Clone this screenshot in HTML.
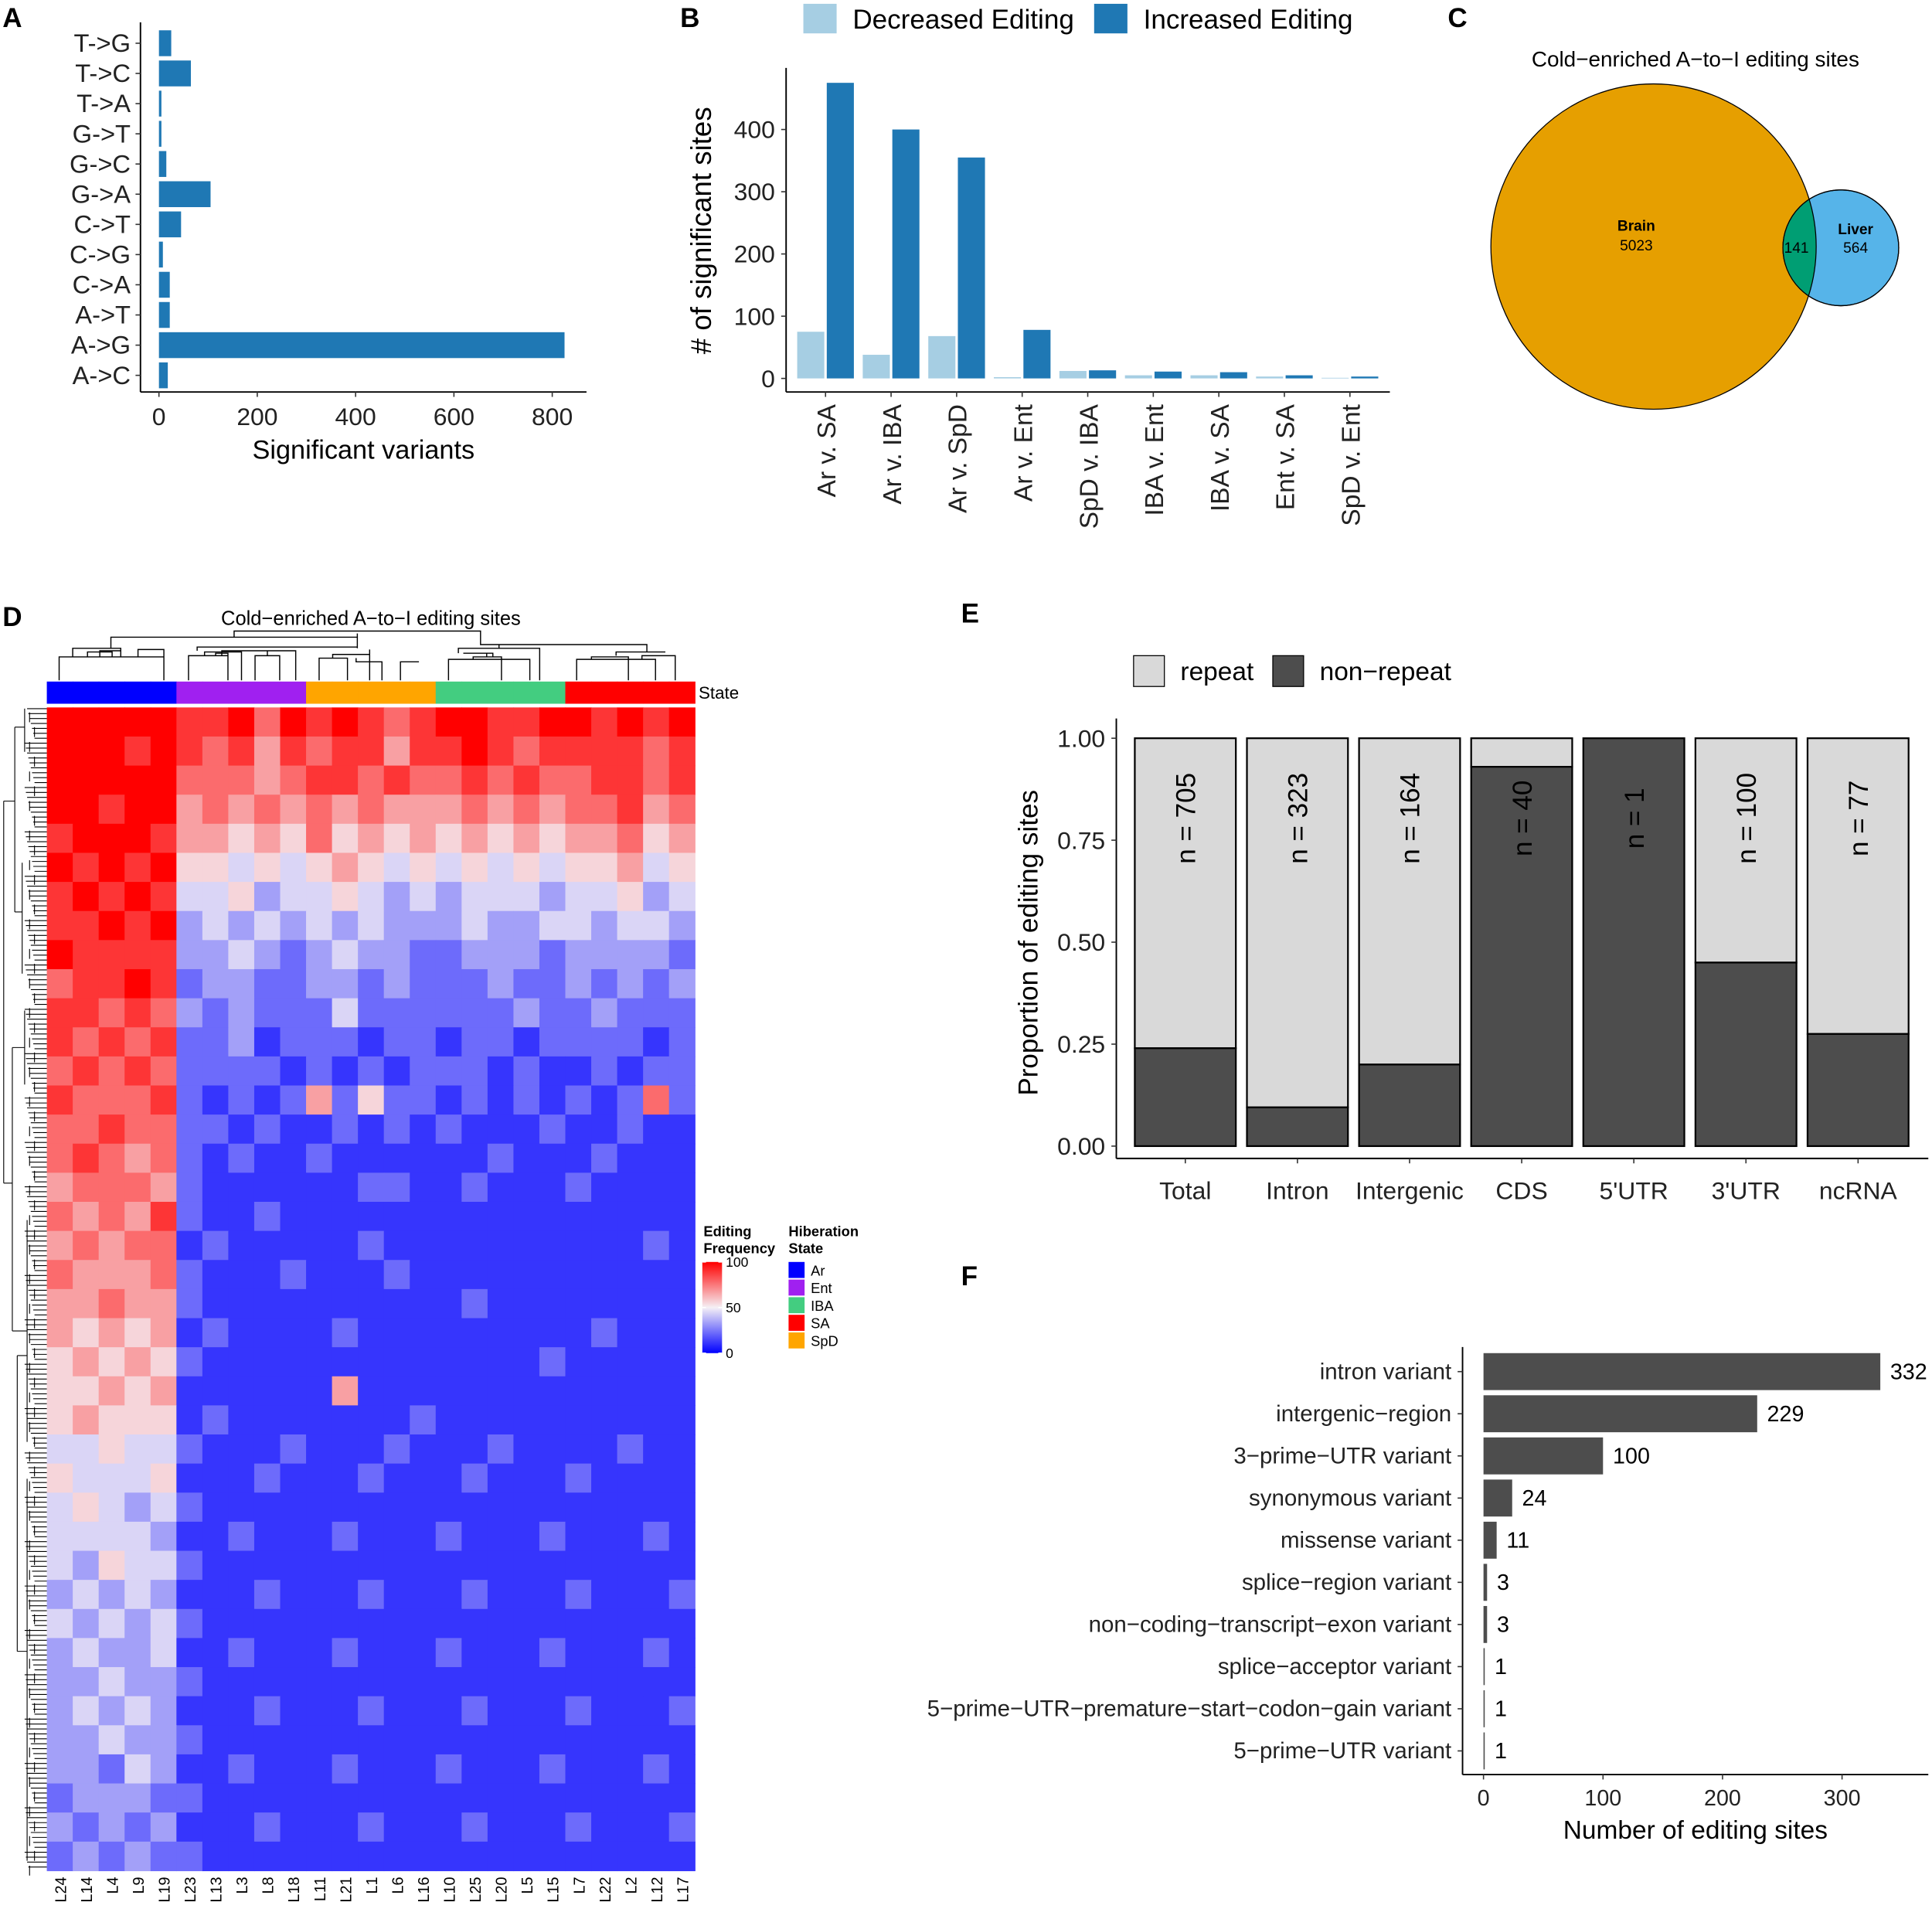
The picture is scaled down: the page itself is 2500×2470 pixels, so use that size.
<!DOCTYPE html>
<html><head><meta charset="utf-8"><style>
html,body{margin:0;padding:0;background:#fff;}
svg{display:block;font-family:"Liberation Sans",Arial,sans-serif;}
</style></head><body>
<svg id="fig" xmlns="http://www.w3.org/2000/svg" width="2500" height="2470" viewBox="0 0 1568 1549">
<g id="A"></g>
<g id="B"></g>
<g id="C"></g>
<g id="D"></g>
<g id="E"></g>
<g id="F"></g>
</svg>
<script>
// ---- Panel A data
const aCats=["T->G","T->C","T->A","G->T","G->C","G->A","C->T","C->G","C->A","A->T","A->G","A->C"];
const aVals=[25,65,5,5,15,105,45,8,22,22,825,18];
const aTicks=[0,200,400,600,800];
// ---- Panel B data
const bCats=["Ar v. SA","Ar v. IBA","Ar v. SpD","Ar v. Ent","SpD v. IBA","IBA v. Ent","IBA v. SA","Ent v. SA","SpD v. Ent"];
const bDec=[75,38,68,2,12,5,5,3,1];
const bInc=[475,400,355,78,13,11,10,5,3];
const bTicks=[0,100,200,300,400];
// ---- Panel C data
const vennBrain=5023, vennShared=141, vennLiver=564;
// ---- Panel D data
const dCols=["L24","L14","L4","L9","L19","L23","L13","L3","L8","L18","L11","L21","L1","L6","L16","L10","L25","L20","L5","L15","L7","L22","L2","L12","L17"];
const dGroups=["Ar","Ent","SpD","IBA","SA"];
const dRows=[
"9999988979898789988998989","9998987868788688987888878","9999977767887877878778878","9989967676767666767677867",
"8999866565756565656566756","9898955454565454545455645","8989844534454343444344534","8898934343434333433443443",
"9888833432343322333233332","7889823322332322232232323","8878732322242222223223222","8787822312221221221222212",
"7878722221212122212112122","8777821212625221212121272","7787722121121212111211211","7876721211211111121112111",
"6777621111112211211121111","7676821121111111111111111","6767712111112111111111121","7666721112111211111111111",
"6676621111111111211111111","6565612111121111111112111","5656521111111111111211111","5565611111161111111111111",
"5655512111111121111111111","4454421112111211121111211","5444511121112111211121111","4543421111111111111111111",
"4444311211121112111211121","4354421111111111111111111","3434311121112111211121112","4343421111111111111111111",
"3433411211121112111211121","3343321111111111111111111","3434311121112111211121112","3343321111111111111111111",
"3324311211121112111211121","2333221111111111111111111","3232311121112111211121112","2323221111111111111111111"];
const dLegendTicks=[0,50,100];
// ---- Panel E data
const eCats=["Total","Intron","Intergenic","CDS","5'UTR","3'UTR","ncRNA"];
const eNonRepeat=[0.24,0.095,0.2,0.93,1.0,0.45,0.275];
const eN=[705,323,164,40,1,100,77];
const eTicks=[0,0.25,0.5,0.75,1.0];
const eTickLabels=["0.00","0.25","0.50","0.75","1.00"];
// ---- Panel F data
const fCats=["intron variant","intergenic−region","3−prime−UTR variant","synonymous variant","missense variant","splice−region variant","non−coding−transcript−exon variant","splice−acceptor variant","5−prime−UTR−premature−start−codon−gain variant","5−prime−UTR variant"];
const fVals=[332,229,100,24,11,3,3,1,1,1];
const fTicks=[0,100,200,300];

const NS="http://www.w3.org/2000/svg";
function mk(parent,tag,attrs,text){const e=document.createElementNS(NS,tag);for(const k in attrs)e.setAttribute(k,attrs[k]);if(text!==undefined)e.textContent=text;parent.appendChild(e);return e;}

// ===== Panel A
(function(){
const g=document.getElementById('A');
const x=v=>129+v*0.399; const y=i=>35+i*24.5;
let t=mk(g,'text',{x:2,y:22,'font-size':22,'font-weight':'bold'},'A');


let ax=mk(g,'line',{x1:114,y1:18,x2:114,y2:318,stroke:'#000','stroke-width':1.2});

let ax2=mk(g,'line',{x1:114,y1:318,x2:476,y2:318,stroke:'#000','stroke-width':1.2});

aCats.forEach((c,i)=>{
 const r=mk(g,'rect',{x:x(0),y:y(i)-10.5,width:Math.max(x(aVals[i])-x(0),1.5),height:21,fill:'#1f78b4'});
 
 
 mk(g,'line',{x1:110,x2:114,y1:y(i),y2:y(i),stroke:'#333'});
 const l=mk(g,'text',{x:106,y:y(i)+7,'font-size':20.5,'text-anchor':'end',fill:'#222'},c);
 
 
});
aTicks.forEach(v=>{
 mk(g,'line',{x1:x(v),x2:x(v),y1:318,y2:322,stroke:'#333'});
 const l=mk(g,'text',{x:x(v),y:345,'font-size':20,'text-anchor':'middle',fill:'#222'},v);
 
 
});
const tt=mk(g,'text',{x:295,y:372,'font-size':21.5,'text-anchor':'middle'},'Significant variants');

})();

// ===== Panel B
(function(){
const g=document.getElementById('B');
const y=v=>307-v*0.505; const cx=i=>670+i*53.2;
let t=mk(g,'text',{x:552,y:22,'font-size':22,'font-weight':'bold'},'B');

let s1=mk(g,'rect',{x:652,y:3,width:27,height:24,fill:'#a6cee3'});

let l1=mk(g,'text',{x:692,y:23,'font-size':22},'Decreased Editing');

let s2=mk(g,'rect',{x:888,y:3,width:27,height:24,fill:'#1f78b4'});

let l2=mk(g,'text',{x:928,y:23,'font-size':22},'Increased Editing');

let ay=mk(g,'line',{x1:638,y1:55,x2:638,y2:318,stroke:'#000','stroke-width':1.2});

let axx=mk(g,'line',{x1:638,y1:318,x2:1128,y2:318,stroke:'#000','stroke-width':1.2});

bTicks.forEach(v=>{
 mk(g,'line',{x1:634,x2:638,y1:y(v),y2:y(v),stroke:'#333'});
 const l=mk(g,'text',{x:629,y:y(v)+7,'font-size':20,'text-anchor':'end',fill:'#222'},v);
 
});
bCats.forEach((c,i)=>{
 const d=mk(g,'rect',{x:cx(i)-23,y:y(bDec[i]),width:22,height:y(0)-y(bDec[i]),fill:'#a6cee3'});
 
 const n=mk(g,'rect',{x:cx(i)+1,y:y(bInc[i]),width:22,height:y(0)-y(bInc[i]),fill:'#1f78b4'});
 
 mk(g,'line',{x1:cx(i),x2:cx(i),y1:318,y2:322,stroke:'#333'});
 const l=mk(g,'text',{x:0,y:0,'font-size':21,'text-anchor':'end',transform:`translate(${cx(i)+8},328) rotate(-90)`,fill:'#222'},c);
 
});
const tt=mk(g,'text',{x:0,y:0,'font-size':23,'text-anchor':'middle',transform:'translate(577,187) rotate(-90)'},'# of significant sites');

})();

// ===== Panel C
(function(){
const g=document.getElementById('C');
let t=mk(g,'text',{x:1175,y:22,'font-size':22,'font-weight':'bold'},'C');

let ti=mk(g,'text',{x:1376,y:54,'font-size':17.5,'text-anchor':'middle'},'Cold−enriched A−to−I editing sites');

const defs=mk(g,'defs',{});const cp=mk(defs,'clipPath',{id:'liverclip'});mk(cp,'circle',{cx:1494,cy:201,r:47});
let b=mk(g,'circle',{cx:1342,cy:200,r:132,fill:'#e69f00',stroke:'#000','stroke-width':0.8});

let l=mk(g,'circle',{cx:1494,cy:201,r:47,fill:'#56b4e9',stroke:'#000','stroke-width':0.8});

let o=mk(g,'circle',{cx:1342,cy:200,r:132,fill:'#009e73','clip-path':'url(#liverclip)',stroke:'#000','stroke-width':0.8});

mk(g,'circle',{cx:1494,cy:201,r:47,fill:'none',stroke:'#000','stroke-width':0.8});
[[1328,187,'Brain',true],[1328,203,vennBrain,false],[1506,190,'Liver',true],[1506,205,vennLiver,false],[1458,205,vennShared,false]].forEach(a=>{
 const e=mk(g,'text',{x:a[0],y:a[1],'font-size':12,'text-anchor':'middle','font-weight':a[3]?'bold':'normal'},a[2]);
 
});
})();

// ===== Panel D
(function(){
const g=document.getElementById('D');
const X0=38,X1=564,Y0=574,Y1=1518;
const cw=(X1-X0)/dCols.length, rh=(Y1-Y0)/dRows.length;
const grpColor={Ar:'#0000ff',Ent:'#a020f0',SpD:'#ffa500',IBA:'#43cd80',SA:'#ff0000'};
let t=mk(g,'text',{x:2,y:508,'font-size':22,'font-weight':'bold'},'D');

let ti=mk(g,'text',{x:301,y:507,'font-size':16,'text-anchor':'middle'},'Cold−enriched A−to−I editing sites');

function col(v){const f=v/9;let r,gg,b;
 if(f<0.5){const k=f/0.5;r=Math.round(k*245);gg=Math.round(k*240);b=255-Math.round(k*10);}
 else{const k=(f-0.5)/0.5;r=245+Math.round(k*10);gg=Math.round(240*(1-k));b=Math.round(245*(1-k));}
 return `rgb(${r},${gg},${b})`;}
dRows.forEach((row,ri)=>{
 for(let ci=0;ci<dCols.length;ci++){
  const c=mk(g,'rect',{x:X0+ci*cw,y:Y0+ri*rh,width:cw+0.4,height:rh+0.4,fill:col(+row[ci])});
  
  
 }
});
dCols.forEach((c,ci)=>{
 const gi=Math.floor(ci/5);
 const r=mk(g,'rect',{x:X0+ci*cw,y:553,width:cw+0.4,height:18,fill:grpColor[dGroups[gi]]});
 
 const l=mk(g,'text',{x:0,y:0,'font-size':12.5,'text-anchor':'end',transform:`translate(${X0+ci*cw+cw/2+5},1523) rotate(-90)`},c);
 
});
let st=mk(g,'text',{x:567,y:567,'font-size':14},'State');

const dp=mk(g,'path',{fill:'none',stroke:'#000','stroke-width':0.9,d:
'M48,552V533H133V552 M59,533V526H98V533 M71,533V529H91V533 M81,533V528H98V533 M112,533V527H133V533 '+
'M90,526V517H290V526 M153,552V532H185V552 M166,532V529H196V552 M175,532V530H185V532 M207,552V532H227V552 M217,532V528H180V532 M240,552V528H215 '+
'M160,528V525H290 M259,552V534H282V552 M270,534V531H300V552 M289,534V537H310V552 M325,552V537H340 M300,531V527 '+
'M290,517V514M190,517V512H390V517 M364,552V535H430V552 M384,535V533H407V552 M395,533V530 M376,530H400V533 M372,530V526H438V552 '+
'M468,552V535H532V552 M480,535V533H510V552 M521,535V532H548V552 M500,532V529H540 M405,526V523H525V529 M390,517V523H460'});

let p='M3,650V960 M3,650H12 M3,960H10 M12,590V740 M10,850V1080 M12,590H20 M12,740H18 M10,850H20 M10,1080H22 M20,575V610 M18,700V790 M20,820V880 M22,990V1170 M22,1200V1510 M14,1100V1340 M14,1100H22 M14,1340H22';
for(let yy=575;yy<1516;yy+=4){p+=` M${20+((yy*7)%9)},${yy}H38`;}
for(let yy=578;yy<1516;yy+=12){p+=` M${22+((yy*5)%8)},${yy}V${yy+8}`;}
const rd=mk(g,'path',{fill:'none',stroke:'#000','stroke-width':0.7,d:p});

let e1=mk(g,'text',{x:571,y:1003,'font-size':11.5,'font-weight':'bold'},'Editing');

mk(g,'text',{x:571,y:1017,'font-size':11.5,'font-weight':'bold'},'Frequency');
const defs=mk(g,'defs',{});const lg=mk(defs,'linearGradient',{id:'hmg',x1:0,y1:0,x2:0,y2:1});
mk(lg,'stop',{offset:'0','stop-color':'#ff0000'});mk(lg,'stop',{offset:'0.5','stop-color':'#f5f0f5'});mk(lg,'stop',{offset:'1','stop-color':'#0000ff'});
const cb=mk(g,'rect',{x:570,y:1024,width:16,height:74,fill:'url(#hmg)'});

dLegendTicks.forEach(v=>{const yy=1098-v*0.74;
 mk(g,'line',{x1:570,x2:573,y1:yy,y2:yy,stroke:'#fff'});mk(g,'line',{x1:583,x2:586,y1:yy,y2:yy,stroke:'#fff'});
 const l=mk(g,'text',{x:589,y:yy+4,'font-size':11},v);});
mk(g,'text',{x:640,y:1003,'font-size':11.5,'font-weight':'bold'},'Hiberation');
mk(g,'text',{x:640,y:1017,'font-size':11.5,'font-weight':'bold'},'State');
['Ar','Ent','IBA','SA','SpD'].forEach((s,i)=>{
 const r=mk(g,'rect',{x:640,y:1024+i*14.3,width:13,height:13,fill:grpColor[s]});
 
 const l=mk(g,'text',{x:658,y:1035+i*14.3,'font-size':11.5},s);
 
});
})();

// ===== Panel E
(function(){
const g=document.getElementById('E');
const y=v=>930-v*331; const bx=[921,1012,1103,1194,1285,1376,1467]; const bw=82;
let t=mk(g,'text',{x:780,y:505,'font-size':22,'font-weight':'bold'},'E');

let s1=mk(g,'rect',{x:920,y:532,width:25,height:25,fill:'#d9d9d9',stroke:'#000','stroke-width':0.8});

let l1=mk(g,'text',{x:958,y:552,'font-size':21},'repeat');

let s2=mk(g,'rect',{x:1033,y:532,width:25,height:25,fill:'#4d4d4d',stroke:'#000','stroke-width':0.8});

let l2=mk(g,'text',{x:1071,y:552,'font-size':21},'non−repeat');

mk(g,'line',{x1:906,y1:583,x2:906,y2:940,stroke:'#000','stroke-width':1.2});
mk(g,'line',{x1:906,y1:940,x2:1565,y2:940,stroke:'#000','stroke-width':1.2});
eTicks.forEach((v,i)=>{mk(g,'line',{x1:902,x2:906,y1:y(v),y2:y(v),stroke:'#333'});
 const l=mk(g,'text',{x:897,y:y(v)+7,'font-size':20,'text-anchor':'end',fill:'#222'},eTickLabels[i]);
 });
eCats.forEach((c,i)=>{
 const r=mk(g,'rect',{x:bx[i],y:y(1),width:bw,height:y(eNonRepeat[i])-y(1),fill:'#d9d9d9',stroke:'#000','stroke-width':1.4});
 
 const n=mk(g,'rect',{x:bx[i],y:y(eNonRepeat[i]),width:bw,height:y(0)-y(eNonRepeat[i]),fill:'#4d4d4d',stroke:'#000','stroke-width':1.4});
 
 const cx=bx[i]+bw/2;
 mk(g,'line',{x1:cx,x2:cx,y1:940,y2:944,stroke:'#333'});
 const l=mk(g,'text',{x:cx,y:973,'font-size':20,'text-anchor':'middle',fill:'#222'},c);
 
 const nl=mk(g,'text',{x:0,y:0,'font-size':22,'text-anchor':'middle',transform:`translate(${cx+8},664) rotate(-90)`},'n = '+eN[i]);
 
});
const tt=mk(g,'text',{x:0,y:0,'font-size':22,'text-anchor':'middle',transform:'translate(842,765) rotate(-90)'},'Proportion of editing sites');

})();

// ===== Panel F
(function(){
const g=document.getElementById('F');
const x=v=>1204+v*0.97; const y=i=>1113+i*34.2;
let t=mk(g,'text',{x:780,y:1043,'font-size':22,'font-weight':'bold'},'F');

mk(g,'line',{x1:1187,y1:1093,x2:1187,y2:1440,stroke:'#000','stroke-width':1.2});
mk(g,'line',{x1:1187,y1:1440,x2:1565,y2:1440,stroke:'#000','stroke-width':1.2});
fCats.forEach((c,i)=>{
 const r=mk(g,'rect',{x:x(0),y:y(i)-15,width:Math.max(x(fVals[i])-x(0),1),height:30,fill:'#4d4d4d'});
 
 mk(g,'line',{x1:1183,x2:1187,y1:y(i),y2:y(i),stroke:'#333'});
 const l=mk(g,'text',{x:1178,y:y(i)+6,'font-size':18.5,'text-anchor':'end',fill:'#222'},c);
 
 const v=mk(g,'text',{x:x(fVals[i])+8,y:y(i)+6,'font-size':18},fVals[i]);
 
});
fTicks.forEach(v=>{mk(g,'line',{x1:x(v),x2:x(v),y1:1440,y2:1444,stroke:'#333'});
 const l=mk(g,'text',{x:x(v),y:1465,'font-size':18,'text-anchor':'middle',fill:'#222'},v);
 });
const tt=mk(g,'text',{x:1376,y:1492,'font-size':21,'text-anchor':'middle'},'Number of editing sites');

})();
</script>
</body></html>
